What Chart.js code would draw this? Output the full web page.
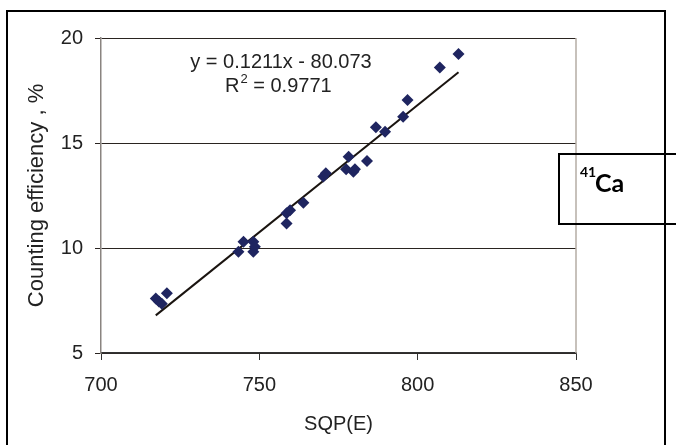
<!DOCTYPE html>
<html>
<head>
<meta charset="utf-8">
<script src="https://cdn.jsdelivr.net/npm/chart.js@4.4.0/dist/chart.umd.min.js"></script>
<style>
    html, body { margin: 0; padding: 0; background: #fff; }
    #wrap { position: relative; width: 676px; height: 445px; overflow: hidden; }
    #frame {
        position: absolute; left: 6px; top: 10px; width: 660px; height: 450px;
        border: 2px solid #000; box-sizing: border-box;
    }
    #label {
        position: absolute; left: 558px; top: 153px; width: 130px; height: 72px;
        border: 2px solid #000; box-sizing: border-box;
        font-family: Lato, "Open Sans", sans-serif; font-weight: bold; color: #000;
    }
    #label .iso { position: absolute; left: 20px; top: 10px; font-size: 14px; line-height: 14px; }
    #label .el { position: absolute; left: 35px; top: 15px; font-size: 25px; line-height: 25px; }
    canvas { position: absolute; left: 0; top: 0; }
</style>
</head>
<body>
<div id="wrap">
    <canvas id="chart" width="676" height="445"></canvas>
    <div id="frame"></div>
    <div id="label"><span class="iso">41</span><span class="el">Ca</span></div>
</div>
<script>
// Data
const sqpValues = [717.3, 718.3, 719.2, 720.8, 743.4, 745.0, 748.1, 748.1, 748.6,
    758.6, 758.6, 759.7, 763.9, 770.2, 771.0, 777.4, 778.2, 779.7, 780.2, 784.0,
    786.8, 789.7, 795.4, 796.8, 807.0, 812.9];
const efficiencyValues = [7.6, 7.45, 7.35, 7.85, 9.82, 10.3, 10.3, 9.82, 10.06,
    11.65, 11.17, 11.8, 12.16, 13.4, 13.56, 13.75, 14.35, 13.63, 13.75, 14.14,
    15.75, 15.54, 16.25, 17.05, 18.6, 19.24];
const xTicks = [700, 750, 800, 850];
const yTicks = [5, 10, 15, 20];

// Trendline as printed on the chart
const slope = 0.1211;
const intercept = -80.073;
const xMin = Math.min(...sqpValues);
const xMax = Math.max(...sqpValues);
const trendPoints = [
    { x: xMin, y: slope * xMin + intercept },
    { x: xMax, y: slope * xMax + intercept }
];

const scatterPoints = sqpValues.map((x, i) => ({ x: x, y: efficiencyValues[i] }));

const fontFamily = '"Liberation Sans", Arial, sans-serif';
const textColor = '#222';

// Right border of plot area + equation text
const plotExtras = {
    id: 'plotExtras',
    afterDraw(chart) {
        const { ctx, chartArea } = chart;
        ctx.save();
        ctx.strokeStyle = '#b4aca4';
        ctx.lineWidth = 1.5;
        ctx.beginPath();
        ctx.moveTo(chartArea.right, chartArea.top);
        ctx.lineTo(chartArea.right, chartArea.bottom);
        ctx.stroke();

        ctx.fillStyle = textColor;
        ctx.textBaseline = 'alphabetic';
        ctx.font = '20px ' + fontFamily;
        ctx.textAlign = 'center';
        ctx.fillText('y = 0.1211x - 80.073', 281, 68);

        // R² = 0.9771
        ctx.textAlign = 'left';
        let x = 225;
        ctx.fillText('R', x, 92);
        x += ctx.measureText('R').width;
        ctx.font = '13px ' + fontFamily;
        ctx.fillText('2', x + 1, 83);
        x += ctx.measureText('2').width + 1;
        ctx.font = '20px ' + fontFamily;
        ctx.fillText(' = 0.9771', x, 92);
        ctx.restore();
    }
};

new Chart(document.getElementById('chart'), {
    type: 'scatter',
    data: {
        datasets: [{
            label: 'data',
            data: scatterPoints,
            pointStyle: 'rectRot',
            pointRadius: 6,
            backgroundColor: '#1f2560',
            borderColor: '#1f2560',
            borderWidth: 0,
            order: 1
        }, {
            label: 'trend',
            type: 'line',
            data: trendPoints,
            borderColor: '#1a1410',
            borderWidth: 2,
            pointRadius: 0,
            fill: false,
            order: 2
        }]
    },
    options: {
        responsive: false,
        animation: false,
        events: [],
        layout: { padding: { top: 38, right: 100, left: 24, bottom: 0 } },
        plugins: { legend: { display: false }, tooltip: { enabled: false } },
        scales: {
            x: {
                type: 'linear',
                min: 700,
                max: 850,
                afterBuildTicks: (scale) => { scale.ticks = xTicks.map(v => ({ value: v })); },
                afterFit: (scale) => { scale.height = 92; },
                ticks: {
                    color: textColor,
                    font: { family: fontFamily, size: 20 },
                    padding: 13,
                    maxRotation: 0
                },
                grid: { drawOnChartArea: false, drawTicks: true, tickLength: 7, color: '#333', lineWidth: 1 },
                border: { color: '#333', width: 1.5 },
                title: {
                    display: true,
                    text: 'SQP(E)',
                    color: textColor,
                    font: { family: fontFamily, size: 20 },
                    padding: { top: 0, bottom: 9 }
                }
            },
            y: {
                min: 5,
                max: 20,
                afterBuildTicks: (scale) => { scale.ticks = yTicks.map(v => ({ value: v })); },
                afterFit: (scale) => { scale.width = 77; },
                ticks: {
                    color: textColor,
                    font: { family: fontFamily, size: 20 },
                    padding: 12
                },
                grid: { color: '#2a2420', lineWidth: 1, tickLength: 6 },
                border: { color: '#8a8480', width: 1.5 },
                title: {
                    display: true,
                    text: 'Counting efficiency , %',
                    color: textColor,
                    font: { family: fontFamily, size: 22 },
                    padding: 0
                }
            }
        }
    },
    plugins: [plotExtras]
});
</script>
</body>
</html>
